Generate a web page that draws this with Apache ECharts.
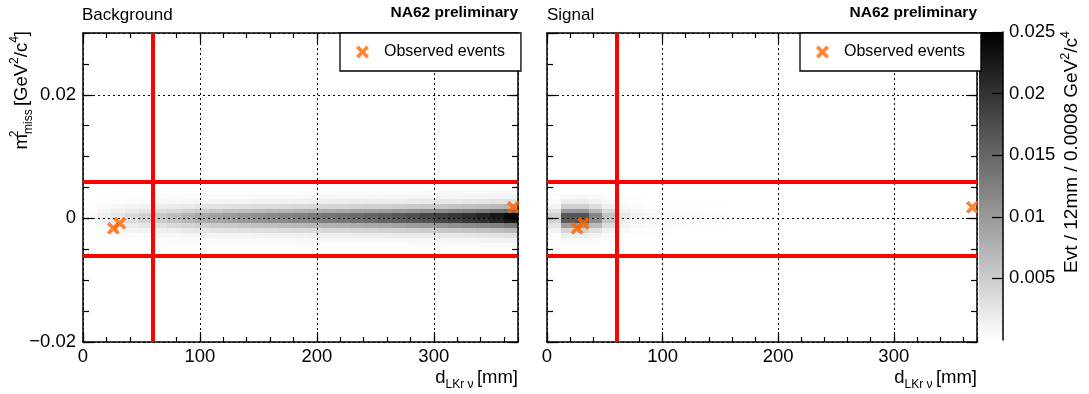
<!DOCTYPE html>
<html><head><meta charset="utf-8">
<script src="https://cdn.jsdelivr.net/npm/echarts@6/dist/echarts.min.js"></script>
<style>html,body{margin:0;padding:0;background:#fff}#c{width:1089px;height:394px}</style>
</head><body><div id="c"></div>
<script>
const FONT = '"Liberation Sans", Arial, Helvetica, sans-serif';

// ---------------- data ----------------
const X_MIN = 0, X_MAX = 372;          // d_LKr nu [mm]
const Y_MIN = -0.02, Y_MAX = 0.03;     // m2_miss [GeV^2/c^4]
const X_BIN = 12;                      // mm
const Y_BIN = 0.0008;                  // GeV^2/c^4
const Z_MAX = 0.025;                   // colour scale top
const VALUE_UNIT = 1e-4;               // table values below are in units of 1e-4 Evt

const xTickMajor = 100, xTickMinor = 20;
const yTickMajor = 0.02, yTickMinor = 0.005;
const zTickStep = 0.005;

// Background histogram: low edges of the non-empty m2 bins, and counts per 12 mm column (31 columns)
const bgRowLowEdges = [-0.0048, -0.004, -0.0032, -0.0024, -0.0016, -0.0008, 0, 0.0008, 0.0016, 0.0024, 0.0032, 0.004];
const bgValues = [
  [0,0,1,1,1,1,1,2,2,2,2,2,2,2,2,3,3,3,3,3,3,3,3,3,4,4,4,4,4,5,5],
  [0,1,1,2,2,3,3,4,4,5,5,5,6,6,6,6,7,7,7,7,8,8,8,9,9,9,10,10,11,11,12],
  [1,2,3,4,5,7,8,9,10,11,12,12,13,14,14,15,16,16,17,18,18,19,20,21,22,23,24,25,26,27,29],
  [1,4,7,10,13,15,18,21,24,26,27,29,31,32,34,35,36,38,39,41,43,44,46,48,50,53,55,57,60,63,67],
  [3,8,14,19,25,30,36,41,47,51,54,57,61,63,66,69,72,74,77,80,84,87,91,95,99,103,108,113,118,124,132],
  [5,14,24,33,43,52,62,71,81,87,93,99,105,109,114,119,124,128,133,139,144,150,157,163,171,179,186,195,203,214,228],
  [5,15,25,35,45,55,65,75,85,92,98,104,110,115,120,125,130,135,140,146,152,158,165,172,180,188,196,205,214,225,240],
  [3,9,15,21,27,33,39,45,51,55,59,62,66,69,72,75,78,81,84,88,91,95,99,103,108,113,118,123,128,135,144],
  [2,5,8,11,14,17,20,23,26,28,29,31,33,35,36,38,39,41,42,44,46,47,50,52,54,56,59,62,64,68,72],
  [1,2,3,4,5,7,8,9,10,11,12,12,13,14,14,15,16,16,17,18,18,19,20,21,22,23,24,25,26,27,29],
  [0,1,1,2,2,3,3,4,4,5,5,5,6,6,6,6,7,7,7,7,8,8,8,9,9,9,10,10,11,11,12],
  [0,0,1,1,1,1,1,2,2,2,2,2,2,2,2,3,3,3,3,3,3,3,3,3,4,4,4,4,4,5,5]
];

// Signal histogram: non-empty m2 bins, counts for the first 13 columns (0-156 mm)
const sigRowLowEdges = [-0.004, -0.0032, -0.0024, -0.0016, -0.0008, 0, 0.0008, 0.0016, 0.0024, 0.0032];
const sigValues = [
  [2,6,6,4,2,1,0,0,0,0,0,0,0],
  [4,16,17,12,6,2,1,1,1,0,0,0,0],
  [11,42,44,30,15,6,3,2,2,1,1,1,0],
  [26,95,98,68,34,12,7,5,4,3,2,2,1],
  [44,160,165,112,58,20,12,8,6,5,4,3,2],
  [46,165,168,118,60,22,14,9,7,6,5,4,3],
  [28,100,102,72,36,13,8,5,4,3,3,2,1],
  [12,45,46,32,16,6,4,2,2,2,1,1,1],
  [5,18,19,13,7,3,2,1,1,1,0,0,0],
  [2,6,7,5,3,1,1,0,0,0,0,0,0]
];

// Observed events
const eventD = [26, 31.5, 368];
const eventM2 = [-0.0016, -0.0008, 0.0018];

// Signal-region cuts
const cutD = [60];
const cutM2 = [-0.006, 0.006];

// ---------------- build ----------------
function cells(rowEdges, values) {
  const out = [];
  values.forEach((row, r) => row.forEach((v, c) => {
    if (v > 0) out.push([c * X_BIN, rowEdges[r], v * VALUE_UNIT]);
  }));
  return out;
}
const bgCells = cells(bgRowLowEdges, bgValues);
const sigCells = cells(sigRowLowEdges, sigValues);
const events = eventD.map((d, i) => [d, eventM2[i]]);

function grayOf(v) {
  const t = Math.max(0, Math.min(1, v / Z_MAX));
  const g = Math.round(255 * (1 - t));
  return 'rgb(' + g + ',' + g + ',' + g + ')';
}
function heatRender(params, api) {
  const x0 = api.value(0), y0 = api.value(1), v = api.value(2);
  const a = api.coord([x0, y0]);
  const b = api.coord([Math.min(x0 + X_BIN, X_MAX), y0 + Y_BIN]);
  const L = Math.round(a[0]), R = Math.round(b[0]), T = Math.round(b[1]), B = Math.round(a[1]);
  return { type: 'rect', shape: { x: L, y: T, width: R - L, height: B - T }, style: { fill: grayOf(v) } };
}
function barRender(params, api) {
  const a = api.coord([0, 0]);
  const b = api.coord([1, api.value(1)]);
  return {
    type: 'rect',
    shape: { x: a[0], y: b[1], width: b[0] - a[0], height: a[1] - b[1] },
    style: { fill: { type: 'linear', x: 0, y: 0, x2: 0, y2: 1, colorStops: [{ offset: 0, color: '#000' }, { offset: 1, color: '#fff' }] } }
  };
}

const yFmt = v => { const r = Math.round(v * 1e4) / 1e4; return r < 0 ? '\u2212' + String(-r) : String(r); };
const xFmt = v => String(Math.round(v));

const AX = { color: '#000', width: 1.5 };
const TK = { color: '#000', width: 1.2 };
const GRIDLINE = { show: true, lineStyle: { color: '#000', width: 1, type: [2, 3] } };

function xAxesFor(g) {
  const base = { type: 'value', gridIndex: g, min: X_MIN, max: X_MAX, z: 3,
    axisLine: { show: true, onZero: false, lineStyle: AX }, splitLine: { show: false }, axisLabel: { show: false } };
  return [
    Object.assign({}, base, { position: 'bottom', interval: xTickMajor, splitLine: GRIDLINE,
      axisTick: { inside: true, length: 10, lineStyle: TK },
      axisLabel: { show: true, showMaxLabel: false, formatter: xFmt, fontSize: 18.5, fontFamily: FONT, color: '#000', margin: 5 } }),
    Object.assign({}, base, { position: 'bottom', interval: xTickMinor, axisLine: { show: false, onZero: false },
      axisTick: { inside: true, length: 5, lineStyle: TK } }),
    Object.assign({}, base, { position: 'top', interval: xTickMajor, axisTick: { inside: true, length: 10, lineStyle: TK } }),
    Object.assign({}, base, { position: 'top', interval: xTickMinor, axisLine: { show: false, onZero: false },
      axisTick: { inside: true, length: 5, lineStyle: TK } })
  ];
}
function yAxesFor(g, labels) {
  const base = { type: 'value', gridIndex: g, min: Y_MIN, max: Y_MAX, z: 3,
    axisLine: { show: true, onZero: false, lineStyle: AX }, splitLine: { show: false }, axisLabel: { show: false } };
  return [
    Object.assign({}, base, { position: 'left', interval: yTickMajor, splitLine: GRIDLINE,
      axisTick: { inside: true, length: 11, lineStyle: TK },
      axisLabel: { show: labels, showMaxLabel: false, formatter: yFmt, fontSize: 18.5, fontFamily: FONT, color: '#000', margin: 7 } }),
    Object.assign({}, base, { position: 'left', interval: yTickMinor, axisLine: { show: false, onZero: false },
      axisTick: { inside: true, length: 6, lineStyle: TK } }),
    Object.assign({}, base, { position: 'right', interval: yTickMajor, axisTick: { inside: true, length: 11, lineStyle: TK } }),
    Object.assign({}, base, { position: 'right', interval: yTickMinor, axisLine: { show: false, onZero: false },
      axisTick: { inside: true, length: 6, lineStyle: TK } })
  ];
}

const XSYM = 'path://M2,0 L5,3 L8,0 L10,2 L7,5 L10,8 L8,10 L5,7 L2,10 L0,8 L3,5 L0,2 Z';
const EVT_COLOR = '#ff6600';

function panelSeries(g, data) {
  return [
    { type: 'custom', xAxisIndex: 4 * g, yAxisIndex: 4 * g, z: 1, silent: true,
      renderItem: heatRender, encode: { x: 0, y: 1 }, data: data, clip: true },
    { type: 'scatter', name: 'Observed events', xAxisIndex: 4 * g, yAxisIndex: 4 * g, z: 5,
      symbol: XSYM, symbolSize: 13, itemStyle: { color: EVT_COLOR }, data: events,
      markLine: { silent: true, symbol: 'none', label: { show: false }, animation: false, precision: 6,
        lineStyle: { color: '#ff0000', width: 4, type: 'solid' },
        emphasis: { disabled: true },
        data: cutD.map(d => ({ xAxis: d })).concat(cutM2.map(m => ({ yAxis: m }))) } }
  ];
}

function legendFor(left) {
  return { show: true, data: ['Observed events'], left: left, top: 33, orient: 'horizontal',
    backgroundColor: '#fff', borderColor: '#000', borderWidth: 1.3, borderRadius: 0,
    padding: [11, 16, 11, 16], itemWidth: 13, itemHeight: 13, icon: XSYM, selectedMode: false, z: 10,
    textStyle: { fontSize: 16, fontFamily: FONT, color: '#000', padding: [0, 0, 0, 10] } };
}

const titleStyle = { fontSize: 17, fontWeight: 'normal', fontFamily: FONT, color: '#000' };
const brandStyle = { fontSize: 15.5, fontWeight: 'bold', fontFamily: FONT, color: '#000' };

const chart = echarts.init(document.getElementById('c'), null, { renderer: 'canvas' });
chart.setOption({
  animation: false,
  backgroundColor: '#fff',
  title: [
    { text: 'Background', left: 82, top: 7, padding: 0, textStyle: titleStyle },
    { text: 'NA62 preliminary', right: 571, top: 5, padding: 0, textStyle: brandStyle },
    { text: 'Signal', left: 547, top: 7, padding: 0, textStyle: titleStyle },
    { text: 'NA62 preliminary', right: 112, top: 5, padding: 0, textStyle: brandStyle }
  ],
  legend: [legendFor(340), legendFor(800)],
  grid: [
    { left: 83, top: 33, width: 435, height: 309 },
    { left: 547, top: 33, width: 430, height: 309 },
    { left: 979, top: 32, width: 24, height: 308 }
  ],
  xAxis: xAxesFor(0).concat(xAxesFor(1)).concat([
    { type: 'value', gridIndex: 2, min: 0, max: 1, show: false }
  ]),
  yAxis: yAxesFor(0, true).concat(yAxesFor(1, false)).concat([
    { type: 'value', gridIndex: 2, min: 0, max: Z_MAX, interval: zTickStep, position: 'right', z: 3,
      axisLine: { show: true, onZero: false, lineStyle: AX },
      axisTick: { inside: true, length: 11, lineStyle: TK }, splitLine: { show: false },
      axisLabel: { show: true, showMinLabel: false, fontSize: 18.5, fontFamily: FONT, color: '#000', margin: 6 } }
  ]),
  series: panelSeries(0, bgCells).concat(panelSeries(1, sigCells)).concat([
    { type: 'custom', xAxisIndex: 8, yAxisIndex: 8, silent: true, renderItem: barRender,
      encode: { x: 0, y: 1 }, data: [[0, Z_MAX]] }
  ]),
  graphic: [
    { type: 'text', x: 22, y: 31, rotation: Math.PI / 2, silent: true,
      style: { text: '{m|m}{s0|2}{sb|miss} {m|[GeV}{sp|2}{m|/c}{sp|4}{m|]}', align: 'right', verticalAlign: 'middle',
        fontFamily: FONT, fill: '#000',
        rich: {
          m: { fontSize: 18.5, fontFamily: FONT, lineHeight: 26, verticalAlign: 'middle' },
          s0: { fontSize: 12, fontFamily: FONT, width: 0, align: 'left', lineHeight: 26, verticalAlign: 'top' },
          sb: { fontSize: 12, fontFamily: FONT, lineHeight: 26, verticalAlign: 'bottom' },
          sp: { fontSize: 12, fontFamily: FONT, lineHeight: 26, verticalAlign: 'top' }
        } } },
    { type: 'text', x: 518, y: 378, silent: true,
      style: { text: '{m|d}{sb|LKr \u03bd} {m|[mm]}', align: 'right', verticalAlign: 'middle', fontFamily: FONT, fill: '#000',
        rich: {
          m: { fontSize: 18.5, fontFamily: FONT, lineHeight: 26, verticalAlign: 'middle' },
          sb: { fontSize: 12, fontFamily: FONT, lineHeight: 26, verticalAlign: 'bottom' }
        } } },
    { type: 'text', x: 977, y: 378, silent: true,
      style: { text: '{m|d}{sb|LKr \u03bd} {m|[mm]}', align: 'right', verticalAlign: 'middle', fontFamily: FONT, fill: '#000',
        rich: {
          m: { fontSize: 18.5, fontFamily: FONT, lineHeight: 26, verticalAlign: 'middle' },
          sb: { fontSize: 12, fontFamily: FONT, lineHeight: 26, verticalAlign: 'bottom' }
        } } },
    { type: 'text', x: 1072, y: 31, rotation: Math.PI / 2, silent: true,
      style: { text: '{m|Evt / 12mm / 0.0008 GeV}{sp|2}{m|/c}{sp|4}', align: 'right', verticalAlign: 'middle', fontFamily: FONT, fill: '#000',
        rich: {
          m: { fontSize: 19, fontFamily: FONT, lineHeight: 26, verticalAlign: 'middle' },
          sp: { fontSize: 12.5, fontFamily: FONT, lineHeight: 26, verticalAlign: 'top' }
        } } }
  ]
});
</script>
</body></html>
